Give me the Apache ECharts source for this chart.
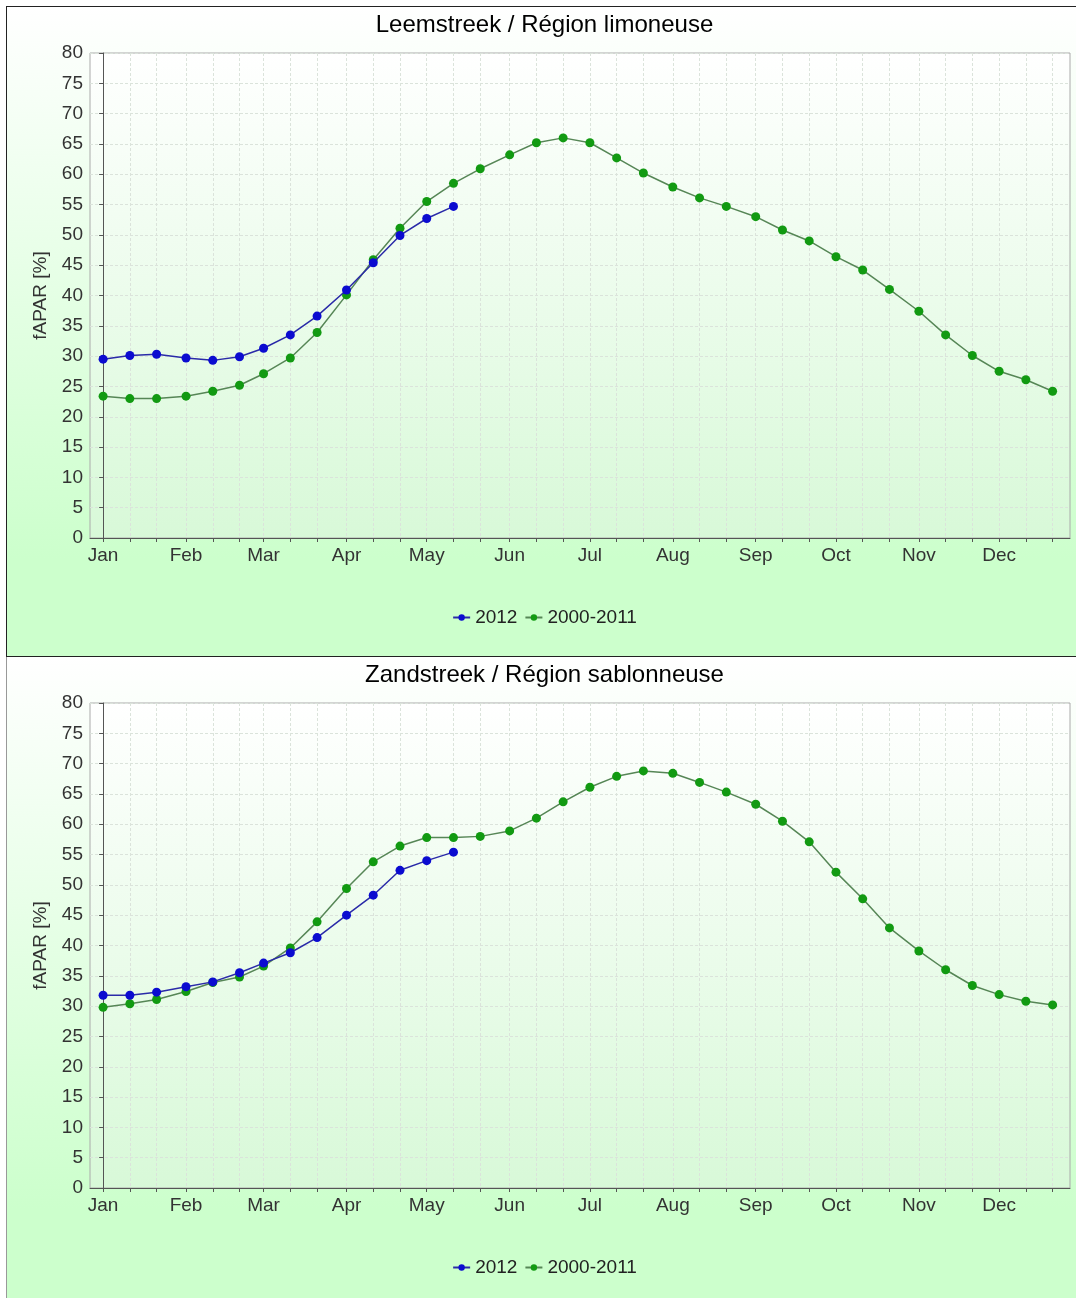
<!DOCTYPE html>
<html>
<head>
<meta charset="utf-8">
<script src="https://cdn.jsdelivr.net/npm/echarts@6/dist/echarts.min.js"></script>
<style>
html,body{margin:0;padding:0;background:#fff;overflow:hidden;width:1076px;height:1298px;}
.panel{position:absolute;left:6px;width:1075px;height:649px;}
#c1{top:6px;border:1px solid #222;}
#c2{top:657px;border-left:1px solid #999;}
</style>
</head>
<body>
<div id="c1" class="panel"></div>
<div id="c2" class="panel"></div>
<script>
// ---- data ----
const monthNames = ['Jan','Feb','Mar','Apr','May','Jun','Jul','Aug','Sep','Oct','Nov','Dec'];
const dekadDays = [1, 11, 21];
const yTicks = {min: 0, max: 80, step: 5};
const seriesNames = ['2012', '2000-2011'];

const leemTitle = 'Leemstreek / Région limoneuse';
const leem2012 = [29.5,30.1,30.3,29.7,29.3,29.9,31.3,33.5,36.6,40.9,45.4,49.9,52.7,54.7];
const leemRef  = [23.4,23.0,23.0,23.4,24.2,25.2,27.1,29.7,33.9,40.1,45.9,51.1,55.5,58.5,60.9,63.2,65.2,66.0,
                  65.2,62.7,60.2,57.9,56.1,54.7,53.0,50.8,49.0,46.4,44.2,41.0,37.4,33.5,30.1,27.5,26.1,24.2];

const zandTitle = 'Zandstreek / Région sablonneuse';
const zand2012 = [31.8,31.8,32.3,33.2,34.0,35.5,37.1,38.8,41.3,45.0,48.3,52.4,54.0,55.4];
const zandRef  = [29.8,30.4,31.1,32.4,33.9,34.8,36.6,39.6,43.9,49.4,53.8,56.4,57.8,57.8,58.0,58.9,61.0,63.7,
                  66.1,67.9,68.8,68.4,66.9,65.3,63.3,60.5,57.1,52.1,47.7,42.9,39.1,36.0,33.4,31.9,30.8,30.2];

// ---- helpers ----
const DAY = 86400000;
const base = Date.UTC(2012, 0, 1);
function dayOf(m, d){ return (Date.UTC(2012, m, d) - base) / DAY; }
const dekads = [];
monthNames.forEach((n, m) => dekadDays.forEach(d => dekads.push(dayOf(m, d))));
const monthStarts = monthNames.map((n, m) => dayOf(m, 1));

const FONT = '"Liberation Sans", Arial, sans-serif';

function build(title, v2012, vRef){
  const d1 = v2012.map((v, i) => [dekads[i], v]);
  const d2 = vRef.map((v, i) => [dekads[i], v]);
  return {
    animation: false,
    backgroundColor: new echarts.graphic.LinearGradient(0,0,0,1,[
      {offset:0, color:'#ffffff'},{offset:0.85, color:'#ccffcc'},{offset:1, color:'#ccffcc'}]),
    title: {
      text: title, left: 'center', top: 6, padding: 0,
      textStyle: {fontFamily: FONT, fontSize: 24, fontWeight: 'normal', color: '#000'}
    },
    legend: {
      top: 601, left: 'center', padding: 0, itemGap: 7, itemWidth: 17, itemHeight: 8,
      textStyle: {fontFamily: FONT, fontSize: 19, color: '#222', padding: [0,0,0,0]},
      data: seriesNames
    },
    grid: {
      left: 83, right: 12, top: 46, bottom: 118, show: true,
      borderColor: '#aaaaaa', borderWidth: 1,
      backgroundColor: new echarts.graphic.LinearGradient(0,0,0,1,[
        {offset:0, color:'#ffffff'},{offset:1, color:'#d8f9d8'}])
    },
    xAxis: {
      type: 'value', min: -4.9, max: 361.5,
      axisLine: {show: true, lineStyle: {color: '#555', width: 1}},
      axisTick: {show: true, customValues: dekads, length: 4, lineStyle: {color: '#555'}},
      axisLabel: {
        customValues: monthStarts, margin: 8,
        fontFamily: FONT, fontSize: 19, color: '#333',
        formatter: v => monthNames[monthStarts.indexOf(Math.round(v))] || ''
      },
      splitLine: {show: true, lineStyle: {color: '#dbe3db', type: [3, 2], width: 1}}
    },
    yAxis: {
      type: 'value', min: yTicks.min, max: yTicks.max, interval: yTicks.step,
      name: 'fAPAR [%]', nameLocation: 'middle', nameGap: 40, nameRotate: 90,
      nameTextStyle: {fontFamily: FONT, fontSize: 19, color: '#333'},
      axisLine: {show: true, lineStyle: {color: '#555', width: 1}},
      axisTick: {show: true, length: 4, lineStyle: {color: '#555'}},
      axisLabel: {margin: 7, fontFamily: FONT, fontSize: 19, color: '#333'},
      splitLine: {show: true, lineStyle: {color: '#dbe3db', type: [3, 2], width: 1}}
    },
    series: [
      {name: seriesNames[0], type: 'line', data: d1, symbol: 'circle', symbolSize: 9, z: 3,
       lineStyle: {color: '#2a2aa8', width: 1.5}, itemStyle: {color: '#0b0bd0'}},
      {name: seriesNames[1], type: 'line', data: d2, symbol: 'circle', symbolSize: 9, z: 2,
       lineStyle: {color: '#568656', width: 1.5}, itemStyle: {color: '#129a12'}}
    ]
  };
}

echarts.init(document.getElementById('c1'), null, {renderer: 'canvas'}).setOption(build(leemTitle, leem2012, leemRef));
echarts.init(document.getElementById('c2'), null, {renderer: 'canvas'}).setOption(build(zandTitle, zand2012, zandRef));
</script>
</body>
</html>
